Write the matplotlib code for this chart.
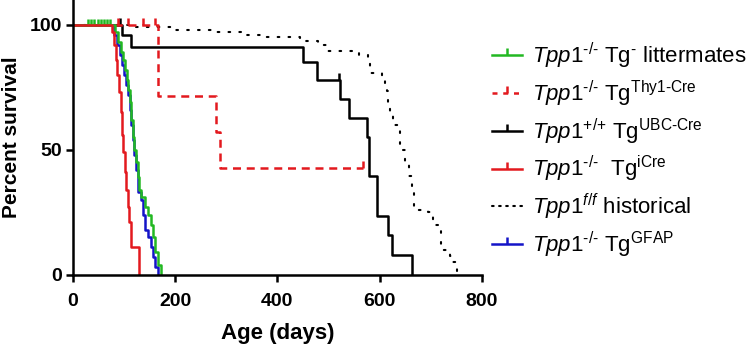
import matplotlib
matplotlib.use("Agg")
import matplotlib.pyplot as plt
from matplotlib.lines import Line2D

plt.rcParams['font.family'] = ['Liberation Sans', 'DejaVu Sans']
plt.rcParams['mathtext.fontset'] = 'custom'
plt.rcParams['mathtext.rm'] = 'Liberation Sans'
plt.rcParams['mathtext.it'] = 'Liberation Sans:italic'
plt.rcParams['mathtext.bf'] = 'Liberation Sans:bold'

# ---- data (days, percent survival) ----
green_t = [0, 82, 88, 93, 97, 101, 105, 108, 111, 114, 117, 120, 123, 127, 130, 134, 140, 147, 152, 156, 160, 166, 173]
green_s = [100, 97, 93, 89, 86, 82, 78, 74, 69, 62, 55, 50, 45, 39, 34, 31, 27, 24, 20, 15, 9, 4, 0]
green_cens_t = [30, 36, 42, 48, 54, 60, 66, 72]

blue_t = [0, 80, 86, 91, 96, 100, 104, 108, 111, 114, 117, 120, 124, 127, 133, 137, 140, 147, 152, 156, 161, 167]
blue_s = [100, 96, 92, 88, 84, 80, 76, 72, 66, 60, 54, 48, 42, 33, 30, 24, 18, 15, 11, 7, 3, 0]

red_t = [0, 76, 80, 84, 87, 90, 93, 95, 98, 101, 104, 107, 110, 114, 130]
red_s = [100, 97, 92, 86, 80, 73, 65, 56, 49, 41, 34, 27, 21, 11, 0]

thy_t = [0, 166, 280, 288, 567]
thy_s = [100, 71.4, 57, 42.9, 42.9]
thy_cens_t = [88, 107, 137, 160, 567]
thy_cens_s = [100, 100, 100, 100, 42.9]

black_t = [0, 95, 114, 450, 478, 523, 541, 575, 579, 594, 617, 624, 663]
black_s = [100, 96, 91, 85, 78, 70.5, 62.6, 55, 39.5, 23.7, 15.8, 8, 0]
black_cens_t = [92, 521]
black_cens_s = [100, 78]

hist_t = [0, 120, 200, 270, 330, 370, 445, 480, 495, 560, 577, 582, 583, 605, 611, 614, 617, 620, 627, 635, 640,
          650, 657, 663, 667, 695, 704, 717, 720, 738, 744, 750, 752]
hist_s = [100, 99, 98, 97, 96, 95, 93.5, 92, 89.5, 88, 86, 83.7, 80.7, 78.3, 76.3, 73.6, 68, 65, 60, 58, 50,
          45, 39.5, 34, 26, 25, 20, 19, 10, 7.4, 5, 3, 0]

x_ticks = [0, 200, 400, 600, 800]
y_ticks = [0, 50, 100]

labels = [
    r'$\mathit{Tpp1}^{\text{-/-}}$ Tg$^{\text{-}}$ littermates',
    r'$\mathit{Tpp1}^{\text{-/-}}$ Tg$^{\text{Thy1-Cre}}$',
    r'$\mathit{Tpp1}^{\text{+/+}}$ Tg$^{\text{UBC-Cre}}$',
    r'$\mathit{Tpp1}^{\text{-/-}}$  Tg$^{\text{iCre}}$',
    r'$\mathit{Tpp1}^{f/f}$ historical',
    r'$\mathit{Tpp1}^{\text{-/-}}$ Tg$^{\text{GFAP}}$',
]

GREEN = '#22B822'
RED = '#E3191E'
BLUE = '#1414C8'
BLACK = '#000000'
LW = 1.8
DOTS = (0, (0.8, 4.4))

fig = plt.figure(figsize=(7.55, 3.44), dpi=100)
ax = fig.add_axes([0.0967, 0.2006, 0.5415, 0.7994])

ax.step(hist_t, hist_s, where='post', color=BLACK, lw=1.5, linestyle=DOTS, dash_capstyle='round')
ax.step(black_t, black_s, where='post', color=BLACK, lw=LW)
ax.plot(black_cens_t, black_cens_s, ls='none', marker=2, ms=5, mew=LW, color=BLACK)
ax.step(thy_t, thy_s, where='post', color=RED, lw=LW, linestyle=(0, (3.2, 2.3)))
ax.plot(thy_cens_t, thy_cens_s, ls='none', marker=2, ms=5, mew=LW, color=RED)
ax.step(blue_t, blue_s, where='post', color=BLUE, lw=LW)
ax.step(green_t, green_s, where='post', color=GREEN, lw=LW)
ax.plot(green_cens_t, [100] * len(green_cens_t), ls='none', marker=2, ms=4, mew=LW, color=GREEN)
ax.step(red_t, red_s, where='post', color=RED, lw=LW)

ax.set_xlim(0, 800)
ax.set_ylim(0, 110)
ax.set_xticks(x_ticks)
ax.set_yticks(y_ticks)
ax.spines['top'].set_visible(False)
ax.spines['right'].set_visible(False)
for sp in ('left', 'bottom'):
    ax.spines[sp].set_linewidth(1.8)
ax.tick_params(direction='out', length=5, width=1.8, labelsize=14)
ax.tick_params(axis='x', pad=8)
ax.tick_params(axis='y', pad=3)
for lab in ax.get_xticklabels() + ax.get_yticklabels():
    lab.set_fontweight('bold')
ax.set_xlabel('Age (days)', fontsize=16, fontweight='bold', labelpad=9)
ax.set_ylabel('Percent survival', fontsize=15, fontweight='bold', labelpad=6)

handles = [
    Line2D([], [], color=GREEN, lw=LW, marker=2, ms=5, mew=LW),
    Line2D([], [], color=RED, lw=LW, linestyle=(0, (2.0, 2.3)), marker=2, ms=5, mew=LW),
    Line2D([], [], color=BLACK, lw=LW, marker=2, ms=5, mew=LW),
    Line2D([], [], color=RED, lw=LW, marker=2, ms=5, mew=LW),
    Line2D([], [], color=BLACK, lw=1.5, linestyle=(0, (0.8, 2.6)), dash_capstyle='round'),
    Line2D([], [], color=BLUE, lw=LW, marker=2, ms=5, mew=LW),
]
fig.legend(handles, labels, loc='center left', bbox_to_anchor=(0.652, 0.563),
           frameon=False, fontsize=16, handlelength=1.35, handletextpad=0.45,
           labelspacing=0.34, borderpad=0, borderaxespad=0, markerfirst=True)

fig.savefig('out.png', dpi=100)
